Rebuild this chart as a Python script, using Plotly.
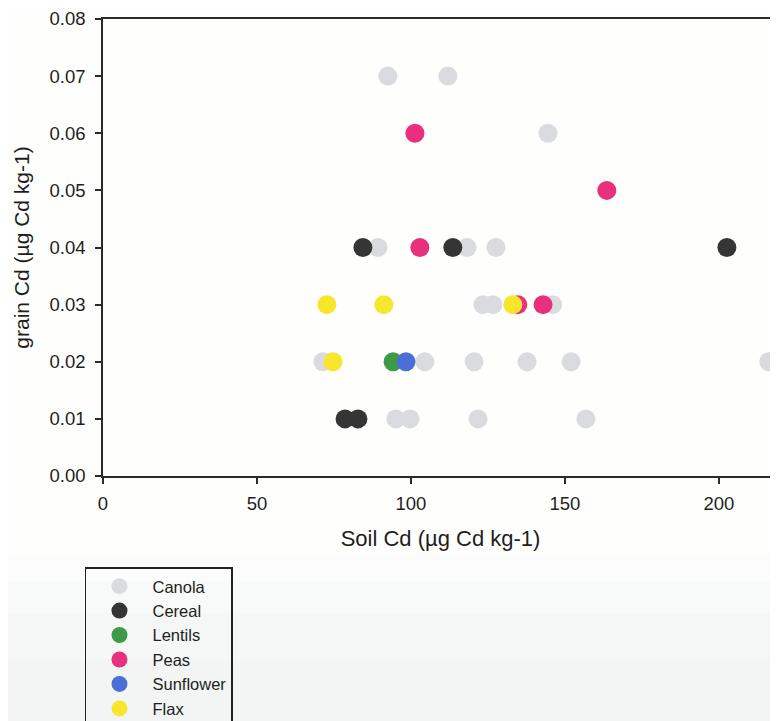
import plotly.graph_objects as go

# ---- data ----
canola_x = [92.5, 112.0, 144.5, 89.3, 118.2, 127.6, 123.4, 126.6, 146.0,
            71.4, 104.5, 120.5, 137.7, 152.0, 216.2, 95.1, 99.7, 121.8, 156.8]
canola_y = [0.07, 0.07, 0.06, 0.04, 0.04, 0.04, 0.03, 0.03, 0.03,
            0.02, 0.02, 0.02, 0.02, 0.02, 0.02, 0.01, 0.01, 0.01, 0.01]
cereal_x = [84.4, 113.6, 202.6, 78.6, 82.8]
cereal_y = [0.04, 0.04, 0.04, 0.01, 0.01]
lentils_x = [94.2]
lentils_y = [0.02]
peas_x = [101.3, 163.6, 102.9, 134.7, 142.9]
peas_y = [0.06, 0.05, 0.04, 0.03, 0.03]
sunflower_x = [98.4]
sunflower_y = [0.02]
flax_x = [72.7, 91.2, 133.1, 74.7]
flax_y = [0.03, 0.03, 0.03, 0.02]

series = [
    ("Canola", canola_x, canola_y, "#d9dbde"),
    ("Cereal", cereal_x, cereal_y, "#353535"),
    ("Lentils", lentils_x, lentils_y, "#3f9a45"),
    ("Peas", peas_x, peas_y, "#e8307e"),
    ("Sunflower", sunflower_x, sunflower_y, "#4a70d6"),
    ("Flax", flax_x, flax_y, "#f8e62c"),
]

x_ticks = [0, 50, 100, 150, 200]
y_ticks = [0.00, 0.01, 0.02, 0.03, 0.04, 0.05, 0.06, 0.07, 0.08]

fig = go.Figure()
for name, xs, ys, col in series:
    fig.add_trace(go.Scatter(
        x=xs, y=ys, mode="markers", name=name,
        marker=dict(size=19, color=col, line=dict(width=0)),
    ))

font_family = "Liberation Sans, Arial, sans-serif"
axis_col = "#2a2a2a"

# faint scanned-paper tint in the lower part of the page
tint_bands = [(-0.17, -0.23, "#fbfcfb"), (-0.23, -0.30, "#f8f9f9"),
              (-0.30, -0.40, "#f5f7f6"), (-0.40, -0.70, "#f2f5f4")]
shapes = [dict(type="rect", xref="paper", yref="paper", x0=-0.2, x1=1.05,
               y0=a, y1=b, fillcolor=c, line=dict(width=0), layer="below")
          for a, b, c in tint_bands]

fig.update_layout(
    width=770, height=713,
    margin=dict(l=95, r=0, t=11, b=245, autoexpand=False),
    paper_bgcolor="#fefefd", plot_bgcolor="rgba(0,0,0,0)",
    font=dict(family=font_family, color="#1e1e1e"),
    showlegend=True,
    legend=dict(
        x=-0.0267, y=-0.2, xanchor="left", yanchor="top",
        bordercolor="#222", borderwidth=1.5, bgcolor="rgba(0,0,0,0)",
        font=dict(size=16.5, family=font_family, color="#1e1e1e"),
        itemsizing="trace", itemwidth=56, tracegroupgap=0,
    ),
    shapes=shapes,
)

fig.update_xaxes(
    range=[0, 219.2], tickvals=x_ticks, ticktext=[str(v) for v in x_ticks],
    showgrid=False, zeroline=False, showline=True, linecolor=axis_col, linewidth=1.5,
    mirror=True, ticks="outside", ticklen=6, tickwidth=1.5, tickcolor=axis_col,
    ticklabelstandoff=4,
    tickfont=dict(size=18.5), title=dict(text="Soil Cd (µg Cd kg-1)", font=dict(size=22), standoff=18),
)
fig.update_yaxes(
    range=[0, 0.08], tickvals=y_ticks, ticktext=[f"{v:.2f}" for v in y_ticks],
    showgrid=False, zeroline=False, showline=True, linecolor=axis_col, linewidth=1.5,
    ticks="outside", ticklen=6, tickwidth=1.5, tickcolor=axis_col,
    ticklabelstandoff=6,
    tickfont=dict(size=18.5), title=dict(text="grain Cd (µg Cd kg-1)", font=dict(size=21), standoff=14),
)

fig.write_html("out.html")
